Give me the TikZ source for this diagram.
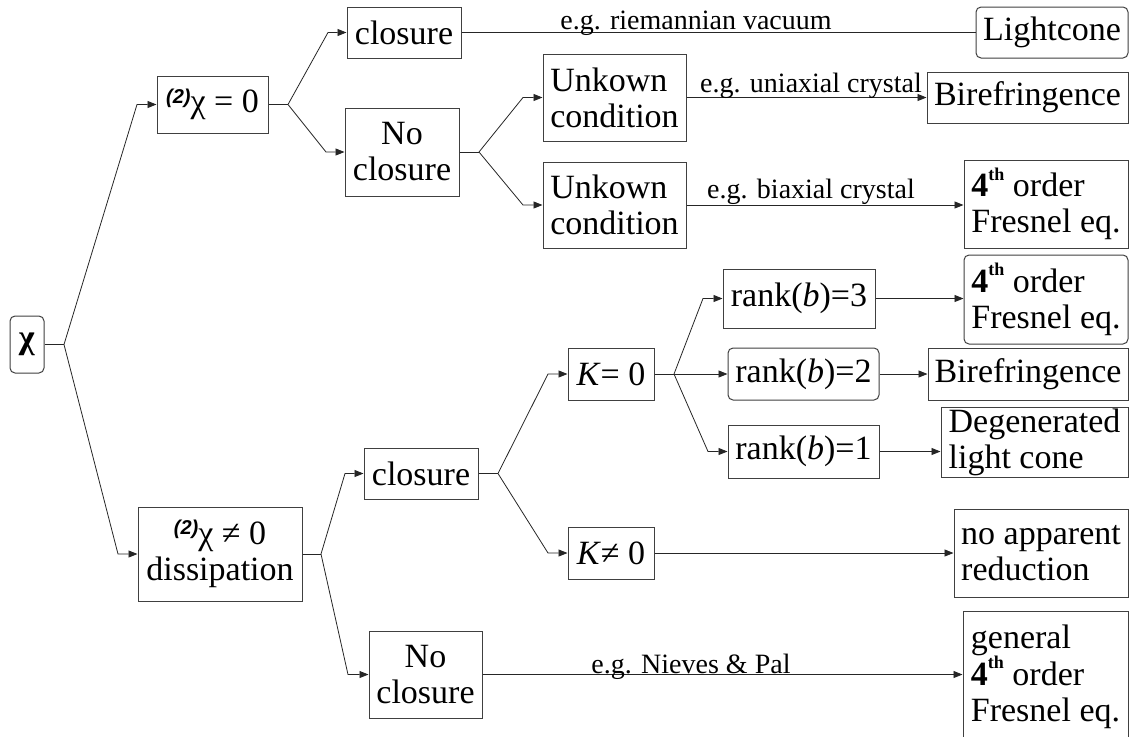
\documentclass[tikz,border=0pt]{standalone}
\usepackage{fontspec}
\setmainfont{Liberation Serif}
\setsansfont{Liberation Sans}
\usetikzlibrary{arrows.meta}
\newcommand\sectwo{\raisebox{0.6ex}{\fontsize{20}{20}\selectfont\sffamily\bfseries\itshape (2)}}
\newcommand\fourth{\textbf{4}\raisebox{1.05ex}{\fontsize{18}{18}\selectfont\bfseries th}}
\tikzset{
  box/.style={draw=black!75, line width=1pt, inner sep=0pt, fill=white,
    font=\fontsize{34}{36}\selectfont, align=center},
  rbox/.style={box, rounded corners=5pt},
  sz/.style 2 args={minimum width=#1pt, minimum height=#2pt},
  conn/.style={draw=black!85, line width=0.8pt},
  arr/.style={conn, -{Triangle[length=9pt,width=7pt]}},
  lbl/.style={font=\fontsize{28}{30}\selectfont, anchor=base, inner sep=0pt},
}
\begin{document}
\begin{tikzpicture}[x=1pt,y=-1pt]
\useasboundingbox (0,0) rectangle (1129,736);
\clip (0,0) rectangle (1129,736);
% nodes
\node[rbox, sz={34}{57}] (chi) at (27,344.5) {\textbf{χ}};
\node[box, sz={111}{57}] (z0) at (212.5,104.5) {\sectwo χ = 0};
\node[box, sz={164}{94}] (nz) at (220,554) {\sectwo χ ≠ 0\\dissipation};
\node[box, sz={114}{51}] (cl1) at (404,32.5) {closure};
\node[box, sz={114}{88}] (nc1) at (402,152) {No\\closure};
\node[box, sz={143}{87}, align=left] (uc1) at (614.5,97.5) {Unkown\\condition};
\node[box, sz={143}{86}, align=left] (uc2) at (614.5,205) {Unkown\\condition};
\node[rbox, sz={152}{51}] (lc) at (1052,32.5) {Lightcone};
\node[box, sz={201}{51}] (bi1) at (1027.5,97.5) {Birefringence};
\node[box, sz={164}{88}, align=left] (f1) at (1046,204) {\fourth{} order\\Fresnel eq.};
\node[box, sz={114}{51}] (cl2) at (421,473.5) {closure};
\node[box, sz={113}{87}] (nc2) at (425.5,674.5) {No\\closure};
\node[box, sz={86}{52}] (k0) at (611,374) {\textit{K}= 0};
\node[box, sz={86}{52}] (kn) at (611,553) {\textit{K}≠ 0};
\node[box, sz={152}{59}] (r3) at (799,298.5) {rank(\textit{b})=3};
\node[rbox, sz={151}{52}] (r2) at (803.5,374) {rank(\textit{b})=2};
\node[box, sz={151}{53}] (r1) at (803.5,451.5) {rank(\textit{b})=1};
\node[rbox, sz={164}{89}, align=left] (f2) at (1046,299.5) {\fourth{} order\\Fresnel eq.};
\node[box, sz={200}{52}] (bi2) at (1028,374) {Birefringence};
\node[box, sz={187}{70}, align=left] (dg) at (1034.5,442) {Degenerated\\light cone};
\node[box, sz={174}{88}, align=left] (na) at (1041,553) {no apparent\\reduction};
\node[box, sz={165}{131}, align=left] (gf) at (1045.5,676.5) {general\\\fourth{} order\\Fresnel eq.};
% junction and bend coordinates
\coordinate (j0) at (64,344.5);
\coordinate (b01) at (137,104.5);
\coordinate (b02) at (118,554);
\coordinate (j1) at (288,104.5);
\coordinate (b11) at (328,32.5);
\coordinate (b12) at (326,152);
\coordinate (j2) at (479,152);
\coordinate (b21) at (523,97.5);
\coordinate (b22) at (523,205);
\coordinate (j3) at (321,554);
\coordinate (b31) at (345,473.5);
\coordinate (b32) at (348,674.5);
\coordinate (j4) at (498,473.5);
\coordinate (b41) at (548,374);
\coordinate (b42) at (548,553);
\coordinate (j5) at (674,374);
\coordinate (b51) at (703,298.5);
\coordinate (b52) at (708,451.5);
% connectors
\draw[conn] (chi.east) -- (j0);
\draw[arr] (j0) -- (b01) -- (z0.west);
\draw[arr] (j0) -- (b02) -- (nz.west);
\draw[conn] (z0.east) -- (j1);
\draw[arr] (j1) -- (b11) -- (cl1.west);
\draw[arr] (j1) -- (b12) -- (nc1.west);
\draw[conn] (cl1.east) -- (lc.west);
\draw[conn] (nc1.east) -- (j2);
\draw[arr] (j2) -- (b21) -- (uc1.west);
\draw[arr] (j2) -- (b22) -- (uc2.west);
\draw[arr] (uc1.east) -- (uc1.east -| bi1.west);
\draw[arr] (uc2.east) -- (uc2.east -| f1.west);
\draw[conn] (nz.east) -- (j3);
\draw[arr] (j3) -- (b31) -- (cl2.west);
\draw[arr] (j3) -- (b32) -- (nc2.west);
\draw[conn] (cl2.east) -- (j4);
\draw[arr] (j4) -- (b41) -- (k0.west);
\draw[arr] (j4) -- (b42) -- (kn.west);
\draw[conn] (k0.east) -- (j5);
\draw[arr] (j5) -- (b51) -- (r3.west);
\draw[arr] (j5) -- (r2.west);
\draw[arr] (j5) -- (b52) -- (r1.west);
\draw[arr] (r3.east) -- (r3.east -| f2.west);
\draw[arr] (r2.east) -- (r2.east -| bi2.west);
\draw[arr] (r1.east) -- (r1.east -| dg.west);
\draw[arr] (kn.east) -- (kn.east -| na.west);
\draw[arr] (nc2.east) -- (nc2.east -| gf.west);
% labels
\node[lbl] (l1) at (696,29) {e.g. riemannian vacuum};
\node[lbl] (l2) at (811,92) {e.g. uniaxial crystal};
\node[lbl] (l3) at (811,198) {e.g. biaxial crystal};
\node[lbl] (l4) at (691,673) {e.g. Nieves \& Pal};
\end{tikzpicture}
\end{document}
